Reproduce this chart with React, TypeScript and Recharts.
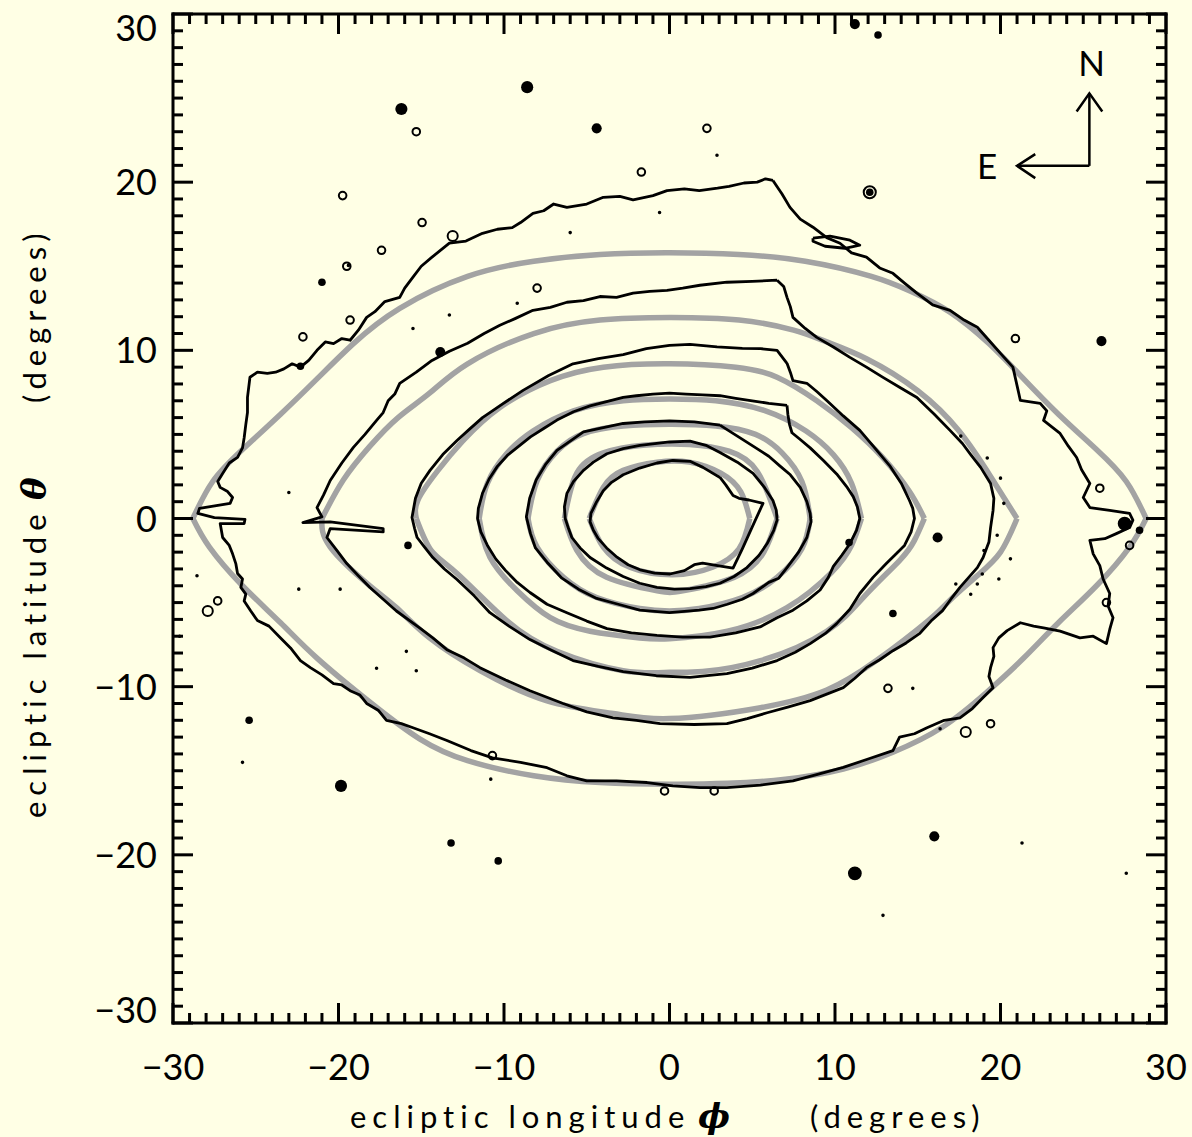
import { ComposedChart, Line, Scatter, XAxis, YAxis, ZAxis, ReferenceDot, Label } from 'recharts';

const BG = '#FFFFE5';
const GRAY = '#A3A3A3';
const FONT = 'Lato, "DejaVu Sans", sans-serif';

type P = [number, number];

// model contours (grey), outermost first; each starts at its left tip
const gray1: P[] = [[-28.8,0],[-27.6,2.2],[-25.8,4.1],[-23.5,6.2],[-21.3,8.3],[-19.1,10.4],[-16.3,12.5],[-12.2,14.4],[-8.2,15.3],[-4.2,15.7],[0,15.8],[4.2,15.7],[8.2,15.3],[12.2,14.4],[14.6,13.5],[16.9,12.3],[19.3,10.4],[21.4,8.3],[23.5,6.2],[25.8,4.1],[27.6,2.2],[28.8,0],[27.8,-1.7],[25.8,-4.0],[23.5,-6.2],[21.4,-8.3],[19.2,-10.3],[16.5,-12.4],[13.5,-13.9],[10.5,-14.9],[7.0,-15.5],[3.5,-15.75],[0,-15.8],[-4.2,-15.7],[-8.2,-15.3],[-12.2,-14.4],[-15.1,-13.1],[-18.0,-11.0],[-21.3,-8.3],[-23.5,-6.2],[-25.8,-4.0],[-27.8,-1.7],[-28.8,0]];
const gray2: P[] = [[-21.0,0],[-19.7,2.3],[-18.1,4.3],[-16.4,6.0],[-14.5,7.45],[-12.2,9.2],[-8.2,11.0],[-4.2,11.8],[0,11.95],[4.2,11.8],[7.5,11.2],[9.5,10.5],[11.9,9.5],[15.0,7.6],[17.5,5.2],[19.4,2.5],[21.0,0],[20.0,-2.0],[18.6,-3.4],[16.9,-4.9],[15.6,-6.1],[12.5,-8.45],[9.5,-10.2],[5.5,-11.25],[0,-11.9],[-3.4,-11.6],[-7.4,-10.85],[-11.45,-9.05],[-14.5,-7.1],[-16.5,-5.3],[-18.1,-4.0],[-20.5,-1.7],[-21.0,0]];
const gray3: P[] = [[-15.3,0],[-15.2,1.1],[-14.0,2.85],[-12.5,4.6],[-10.25,6.6],[-7.2,8.2],[-4.0,9.0],[0,9.2],[4.0,9.0],[6.5,8.4],[8.9,7.0],[11.0,5.4],[12.9,3.6],[14.5,1.6],[15.4,0],[14.8,-1.3],[13.9,-2.5],[11.9,-4.5],[9.5,-6.7],[5.5,-8.45],[2.0,-9.1],[0,-9.15],[-2.8,-9.05],[-6.8,-7.9],[-9.8,-6.1],[-12.8,-3.3],[-14.4,-1.9],[-15.3,0]];
const gray4: P[] = [[-11.5,0],[-11.0,2.1],[-9.8,3.9],[-8.25,5.2],[-5.8,6.4],[-2.8,7.0],[0,7.1],[2.8,7.0],[5.8,6.4],[8.25,5.2],[9.9,3.8],[11.0,2.1],[11.6,0],[11.0,-1.6],[9.8,-3.2],[7.1,-5.3],[3.5,-6.7],[0,-7.15],[-1.8,-7.1],[-4.8,-6.7],[-7.2,-5.9],[-9.2,-4.3],[-10.85,-2.3],[-11.5,0]];
const gray5: P[] = [[-8.55,0],[-8.0,2.25],[-6.8,4.0],[-5.2,5.05],[-2.8,5.5],[0,5.6],[2.8,5.5],[5.2,5.0],[6.8,3.9],[8.0,2.2],[8.5,0],[8.0,-1.8],[6.5,-3.5],[4.4,-4.7],[1.8,-5.35],[0,-5.5],[-1.8,-5.35],[-4.4,-4.7],[-6.4,-3.5],[-8.0,-1.7],[-8.55,0]];
const gray6: P[] = [[-6.35,0],[-5.6,2.7],[-4.0,3.9],[-1.6,4.35],[1.2,4.4],[3.6,4.0],[5.3,2.8],[6.5,0],[5.7,-2.0],[3.9,-3.5],[0.8,-4.3],[-0.75,-4.3],[-3.8,-3.5],[-5.6,-1.9],[-6.35,0]];
const gray7: P[] = [[-4.85,0],[-4.0,1.85],[-2.8,2.86],[-0.75,3.35],[1.2,3.35],[3.1,2.7],[4.3,1.6],[4.85,0],[4.2,-1.8],[2.6,-2.9],[0.2,-3.35],[-2.4,-2.9],[-4.0,-1.7],[-4.85,0]];

// measured contours (black)
const black1: P[] = [[6.25,20.1],[5.8,20.2],[5.3,20.0],[4.5,19.95],[3.6,19.75],[2.9,19.64],[1.8,19.5],[0.9,19.6],[-0.15,19.5],[-1.0,19.2],[-2.2,18.95],[-3.0,19.15],[-4.0,19.1],[-5.0,18.7],[-6.2,18.5],[-7.0,18.7],[-7.6,18.3],[-8.25,18.15],[-9.0,17.6],[-9.5,17.3],[-10.4,17.2],[-11.3,16.96],[-12.3,16.5],[-13.3,16.37],[-13.9,15.9],[-14.35,15.54],[-15.0,15.0],[-15.5,14.35],[-16.0,13.7],[-16.3,13.15],[-17.2,12.9],[-17.8,12.3],[-18.3,11.96],[-18.8,11.2],[-19.3,10.6],[-19.8,10.7],[-20.3,10.4],[-20.8,10.5],[-21.3,10.0],[-21.8,9.4],[-22.3,9.0],[-22.8,9.2],[-23.3,8.9],[-23.8,8.7],[-24.3,8.63],[-24.9,8.7],[-25.35,8.4],[-25.5,7.2],[-25.5,6.3],[-25.6,5.6],[-25.7,4.8],[-25.8,4.2],[-26.1,3.63],[-26.6,3.3],[-27.0,2.68],[-27.3,2.2],[-27.15,1.85],[-26.7,1.6],[-26.4,1.25],[-26.55,0.9],[-28.4,0.6],[-28.5,0.3],[-27.5,0.05],[-25.65,-0.05],[-25.7,-0.3],[-27.15,-0.3],[-27.0,-1.13],[-26.6,-1.6],[-26.4,-2.1],[-26.2,-2.7],[-26.1,-3.27],[-25.8,-3.6],[-25.9,-4.1],[-25.6,-4.5],[-25.7,-4.9],[-25.3,-5.5],[-24.9,-6.07],[-24.2,-6.4],[-23.5,-7.1],[-22.9,-7.7],[-22.3,-8.45],[-21.7,-8.87],[-21.0,-9.3],[-20.3,-9.82],[-19.8,-9.9],[-19.3,-10.24],[-18.7,-10.5],[-18.3,-11.0],[-17.6,-11.4],[-17.1,-12.0],[-16.2,-12.2],[-15.5,-12.44],[-14.5,-12.8],[-13.45,-13.2],[-12.0,-13.8],[-10.7,-14.23],[-9.0,-14.5],[-7.4,-14.82],[-6.2,-15.3],[-5.0,-15.6],[-3.2,-15.6],[-1.36,-15.7],[0.2,-15.9],[1.84,-16.0],[3.47,-16.0],[5.5,-15.85],[7.46,-15.6],[9.0,-15.2],[10.5,-14.8],[12.0,-14.3],[13.5,-13.8],[13.9,-13.0],[14.8,-12.8],[15.56,-12.44],[16.6,-12.0],[17.55,-11.85],[18.3,-11.3],[18.95,-10.65],[19.55,-10.06],[19.3,-9.4],[19.4,-8.87],[19.6,-8.2],[19.55,-7.68],[19.9,-7.1],[20.4,-6.67],[21.2,-6.2],[22.0,-6.4],[22.6,-6.5],[23.6,-6.7],[24.8,-7.1],[25.6,-7.0],[26.4,-7.44],[26.6,-6.6],[26.8,-5.9],[26.5,-5.2],[26.6,-4.46],[26.2,-3.6],[26.0,-2.8],[25.6,-2.1],[25.4,-1.3],[26.3,-1.2],[27.0,-0.9],[27.8,-0.54],[28.0,-0.1],[27.8,0.3],[27.2,0.4],[26.6,0.48],[25.4,0.65],[25.0,1.25],[25.4,2.08],[24.9,2.9],[24.6,3.63],[24.1,4.3],[23.6,5.06],[22.6,5.83],[22.8,6.4],[22.4,6.85],[21.2,7.02],[21.0,7.9],[20.75,9.0],[20.0,9.82],[19.3,10.6],[18.6,11.37],[17.8,11.8],[16.95,12.38],[15.9,12.7],[14.95,13.4],[14.2,14.0],[13.5,14.58],[12.7,14.9],[11.9,15.54],[11.0,15.8],[10.3,16.37],[9.5,16.7],[8.67,17.32],[7.9,17.8],[7.28,18.5],[6.8,19.3],[6.25,20.1]];
const black2: P[] = [[6.5,14.17],[5.0,14.1],[3.47,14.05],[1.84,13.87],[0.8,13.7],[-0.15,13.57],[-1.2,13.5],[-2.2,13.4],[-3.2,13.15],[-4.2,13.2],[-5.2,12.95],[-6.2,12.86],[-7.2,12.55],[-8.25,12.38],[-9.3,11.9],[-10.25,11.49],[-11.2,11.0],[-12.2,10.42],[-13.3,9.95],[-14.35,9.4],[-15.3,8.7],[-16.3,8.04],[-16.6,7.4],[-17.0,7.0],[-17.3,6.3],[-17.7,5.83],[-18.4,5.0],[-19.1,4.23],[-19.8,3.3],[-20.5,2.26],[-20.9,1.4],[-21.3,0.65],[-21.0,0.1],[-22.15,-0.24],[-20.5,-0.2],[-17.3,-0.6],[-17.3,-0.8],[-20.5,-0.6],[-20.7,-1.13],[-20.1,-1.9],[-19.5,-2.68],[-18.8,-3.4],[-18.1,-4.1],[-17.3,-4.8],[-16.5,-5.5],[-15.1,-6.5],[-14.3,-7.1],[-13.45,-7.8],[-12.4,-8.3],[-11.45,-8.87],[-9.9,-9.6],[-8.43,-10.24],[-6.43,-11.0],[-5.0,-11.5],[-3.41,-11.85],[-2.0,-12.0],[-0.57,-12.2],[1.5,-12.25],[3.47,-12.2],[4.7,-11.9],[5.9,-11.55],[7.2,-11.2],[8.5,-10.83],[10.5,-10.06],[11.2,-9.5],[11.9,-8.87],[12.7,-8.4],[13.5,-7.86],[14.3,-7.4],[15.1,-6.85],[15.8,-6.1],[16.5,-5.48],[17.0,-4.8],[17.55,-4.1],[18.6,-2.92],[18.95,-2.32],[19.3,-1.4],[19.4,-0.54],[19.55,0.48],[19.6,1.2],[19.4,2.08],[18.8,3.04],[18.2,3.8],[17.7,4.46],[16.95,5.24],[16.0,6.2],[14.95,7.2],[13.9,7.8],[12.9,8.39],[11.9,9.0],[10.9,9.58],[9.9,10.2],[8.9,10.77],[8.2,11.3],[7.46,11.96],[7.3,12.6],[7.1,13.15],[6.9,13.8],[6.5,14.17]];
const black3: P[] = [[7.1,9.23],[6.5,10.0],[5.5,10.1],[4.4,10.12],[2.87,10.2],[1.24,10.35],[0,10.3],[-1.4,10.1],[-2.8,9.75],[-4.3,9.5],[-5.83,9.2],[-7.3,8.5],[-8.85,7.62],[-10.1,6.8],[-11.3,6.0],[-12.1,5.3],[-12.84,4.64],[-13.7,3.8],[-14.47,2.86],[-15.0,2.1],[-15.35,1.2],[-15.56,0.06],[-15.4,-0.6],[-15.25,-1.13],[-14.8,-1.7],[-14.3,-2.32],[-13.6,-3.0],[-12.84,-3.63],[-11.8,-4.6],[-10.85,-5.6],[-9.7,-6.4],[-8.43,-7.2],[-7.1,-7.85],[-5.83,-8.45],[-4.3,-8.8],[-2.8,-9.1],[-0.8,-9.35],[1.24,-9.45],[3.47,-9.23],[5.0,-8.9],[6.5,-8.45],[7.6,-7.95],[8.5,-7.44],[9.4,-6.85],[10.1,-6.25],[10.9,-5.4],[11.5,-4.46],[12.3,-3.5],[13.1,-2.68],[13.7,-2.1],[14.2,-1.6],[14.6,-0.8],[14.8,0],[14.7,0.6],[14.5,1.07],[14.0,2.1],[13.3,3.15],[12.4,4.2],[11.5,5.24],[10.5,6.1],[9.5,7.02],[8.9,7.55],[8.3,8.04],[7.46,8.2],[7.3,8.7],[7.1,9.23]];
const black4: P[] = [[7.1,6.73],[6.0,6.85],[5.0,7.0],[4.0,7.15],[3.05,7.3],[2.0,7.35],[1.0,7.4],[0,7.45],[-1.0,7.4],[-2.0,7.3],[-2.8,7.2],[-3.8,6.95],[-4.8,6.7],[-5.8,6.35],[-6.8,5.85],[-7.6,5.35],[-8.4,4.85],[-9.1,4.3],[-9.8,3.75],[-10.4,3.1],[-10.9,2.35],[-11.3,1.5],[-11.55,0.6],[-11.6,0.0],[-11.4,-0.8],[-11.0,-1.6],[-10.5,-2.4],[-9.9,-3.1],[-9.2,-3.8],[-8.43,-4.4],[-7.4,-5.1],[-6.2,-5.6],[-5.0,-6.1],[-3.78,-6.55],[-2.3,-6.8],[-0.76,-6.95],[0.8,-7.05],[2.45,-7.05],[4.0,-6.8],[5.47,-6.45],[6.5,-5.9],[7.46,-5.45],[8.3,-4.9],[9.1,-4.25],[9.6,-3.5],[9.9,-2.85],[10.4,-2.2],[10.9,-1.5],[11.3,-0.7],[11.5,0],[11.35,0.7],[11.1,1.3],[10.7,1.9],[10.1,2.65],[9.3,3.45],[8.5,4.2],[7.9,4.7],[7.4,5.1],[7.25,5.6],[7.15,6.2],[7.1,6.73]];
const black5: P[] = [[3.05,5.55],[1.5,5.75],[0,5.8],[-1.5,5.75],[-2.8,5.65],[-4.0,5.4],[-5.2,5.15],[-6.0,4.6],[-6.8,4.05],[-7.5,3.2],[-8.05,2.3],[-8.45,1.2],[-8.65,0.1],[-8.4,-0.9],[-8.1,-1.75],[-7.4,-2.6],[-6.5,-3.55],[-5.5,-4.2],[-4.4,-4.75],[-3.1,-5.1],[-1.8,-5.45],[0,-5.6],[1.8,-5.45],[2.63,-5.35],[3.5,-5.1],[4.4,-4.8],[5.05,-4.46],[6.0,-3.8],[6.6,-3.55],[7.1,-2.92],[7.8,-2.0],[8.3,-1.13],[8.55,-0.2],[8.5,0.3],[8.3,1.0],[7.9,1.85],[7.3,2.6],[6.7,3.1],[6.0,3.7],[5.05,4.3],[4.1,4.9],[3.05,5.55]];
const black6: P[] = [[3.05,3.93],[2.2,4.35],[1.24,4.6],[0,4.55],[-1.78,4.35],[-2.8,4.15],[-3.78,3.85],[-4.6,3.35],[-5.2,2.86],[-5.8,2.2],[-6.2,1.49],[-6.35,0.7],[-6.3,0.0],[-6.1,-0.6],[-5.9,-1.13],[-5.4,-1.75],[-4.8,-2.32],[-3.8,-2.95],[-2.8,-3.45],[-1.8,-3.85],[-0.76,-4.1],[0.3,-4.2],[1.24,-4.17],[2.2,-4.05],[3.05,-3.85],[3.9,-3.45],[4.68,-2.92],[5.4,-2.2],[5.9,-1.49],[6.3,-0.7],[6.5,-0.1],[6.45,0.5],[6.25,1.07],[5.7,1.9],[5.05,2.68],[4.1,3.35],[3.05,3.93]];
const black7: P[] = [[3.05,2.44],[2.02,3.04],[1.24,3.4],[0.2,3.45],[-0.76,3.3],[-1.8,3.0],[-2.8,2.6],[-3.5,2.15],[-4.0,1.65],[-4.4,1.0],[-4.75,0.3],[-4.8,-0.2],[-4.6,-0.7],[-4.3,-1.2],[-3.8,-1.75],[-3.17,-2.3],[-2.5,-2.75],[-1.78,-3.05],[-0.9,-3.25],[0.03,-3.3],[0.9,-3.1],[1.5,-2.75],[2.0,-2.65],[2.9,-2.8],[3.84,-2.95],[4.4,-1.8],[5.0,-0.5],[5.65,0.9],[4.8,1.1],[4.2,1.2],[3.84,1.37],[3.4,2.0],[3.05,2.44]];
const blackLoop: P[] = [[8.67,16.67],[9.7,16.79],[10.9,16.55],[11.5,16.25],[10.6,16.07],[9.4,16.19],[8.67,16.49],[8.67,16.67]];

// stars: phi, theta, brightness
const starsFilled: [number, number, number][] = [[-16.2,24.35,4],[-8.6,25.65,4],[-4.4,23.2,3],[11.2,29.4,3],[12.6,28.75,2],[-13.85,9.9,3],[26.1,10.55,3],[-22.3,9.05,2],[-21.0,14.05,2],[-19.4,15.05,1],[2.87,21.6,1],[-0.6,18.2,1],[-6.0,17.0,1],[-23.0,1.55,1],[-15.8,-1.6,2],[10.85,-1.43,2],[16.2,-1.13,3],[27.5,-0.3,5],[28.4,-0.7,2],[-29.6,-7.0,1],[-25.4,-12.0,2],[-25.8,-14.5,1],[-19.85,-15.9,4],[-13.2,-19.3,2],[-10.35,-20.36,2],[11.2,-21.1,5],[16.0,-18.9,3],[12.9,-23.6,1],[21.3,-19.3,1],[27.6,-21.1,1],[-17.7,-8.9,1],[-15.3,-9.05,1],[-15.9,-7.9,1],[-22.4,-4.2,1],[-19.9,-4.2,1],[-10.8,-15.5,1],[16.35,-12.5,1],[13.5,-5.65,2],[14.7,-10.1,1],[-28.55,-3.4,1],[12.1,19.4,2],[19.8,-1.0,1],[20.2,0.9,1],[18.9,-3.3,1],[19.2,3.6,1],[17.3,-3.9,1],[20.6,-2.4,1],[18.2,-4.5,1],[19.9,-3.6,1],[20.0,2.4,1],[19.0,-1.9,1],[18.6,-3.9,1],[17.6,4.9,1],[-13.3,12.1,1],[-9.2,12.8,1],[-15.5,11.3,1]];
const starsRing: [number, number, number][] = [[-15.3,23.0,2],[2.26,23.2,2],[-1.7,20.6,2],[12.1,19.4,4],[-19.75,19.2,2],[-19.5,15.0,2],[-17.4,15.95,2],[-14.95,17.6,2],[-13.1,16.8,3],[-8.0,13.7,2],[-22.15,10.8,2],[-19.3,11.8,2],[20.9,10.7,2],[-27.9,-5.5,3],[-27.3,-4.9,2],[-10.7,-14.1,2],[-0.3,-16.2,2],[2.7,-16.2,2],[13.2,-10.1,2],[17.9,-12.7,3],[19.4,-12.2,2],[26.0,1.8,2],[27.8,-1.6,2],[26.4,-5.0,2]];

// compass
const arrowN: P[] = [[25.37,20.97],[25.37,25.28]];
const headN: P[] = [[24.6,24.2],[25.37,25.28],[26.15,24.2]];
const arrowE: P[] = [[25.37,20.97],[21.0,20.97]];
const headE: P[] = [[22.1,21.67],[21.0,20.97],[22.1,20.24]];

const ticks = Array.from({ length: 61 }, (_, i) => i - 30);
const pts = (a: P[]) => a.map(([x, y]) => ({ x, y }));
const stars = (a: [number, number, number][]) => a.map(([x, y, m]) => ({ x, y, m }));
const fmt = (v: number) => (v < 0 ? '\u2212' + Math.abs(v) : String(v));
const tickLen = (v: number) => (v % 10 === 0 ? 20 : 10);

// split a closed contour at its right tip so both halves can be smoothed with sharp tips
function halves(a: P[]) {
  let k = 0;
  a.forEach((p, i) => { if (p[0] > a[k][0]) k = i; });
  return [a.slice(0, k + 1), a.slice(k)];
}

function BottomTick({ x, y, payload }: any) {
  const v = payload.value;
  return (
    <g>
      <line x1={x} y1={y} x2={x} y2={y - tickLen(v)} stroke="#000" strokeWidth={3} />
      {v % 10 === 0 && (
        <text x={x} y={y + 57} textAnchor="middle" fontSize={36} fontFamily={FONT} fill="#000">{fmt(v)}</text>
      )}
    </g>
  );
}
function TopTick({ x, y, payload }: any) {
  return <line x1={x} y1={y} x2={x} y2={y + tickLen(payload.value)} stroke="#000" strokeWidth={3} />;
}
function LeftTick({ x, y, payload }: any) {
  const v = payload.value;
  const dy = v === 30 ? 27 : v === -30 ? 0 : 13;
  return (
    <g>
      <line x1={x} y1={y} x2={x + tickLen(v)} y2={y} stroke="#000" strokeWidth={3} />
      {v % 10 === 0 && (
        <text x={x - 16} y={y + dy} textAnchor="end" fontSize={36} fontFamily={FONT} fill="#000">{fmt(v)}</text>
      )}
    </g>
  );
}
function RightTick({ x, y, payload }: any) {
  return <line x1={x} y1={y} x2={x - tickLen(payload.value)} y2={y} stroke="#000" strokeWidth={3} />;
}

const titleStyle = { fontSize: 31, fontFamily: FONT, letterSpacing: 6, fill: '#000' };
const greek = { fontSize: 34, fontFamily: '"DejaVu Serif", serif', fontWeight: 700, fontStyle: 'italic', fill: '#000' };

function XTitle({ viewBox }: any) {
  const x0 = viewBox.x;
  const y0 = viewBox.y + 105;
  return (
    <g>
      <text x={x0 + 177} y={y0} {...titleStyle}>ecliptic longitude</text>
      <text x={x0 + 525} y={y0} {...greek}>{'\u03D5'}</text>
      <text x={x0 + 637} y={y0} {...titleStyle}>(degrees)</text>
    </g>
  );
}
function YTitle({ viewBox }: any) {
  const bx = viewBox.x + 46;
  const by = viewBox.y + 804;
  return (
    <g transform={`translate(${bx},${by}) rotate(-90)`}>
      <text x={0} y={0} {...titleStyle}>ecliptic latitude</text>
      <text x={318} y={0} {...greek}>{'\u03B8'}</text>
      <text x={415} y={0} {...titleStyle}>(degrees)</text>
    </g>
  );
}

const axisLine = { stroke: '#000', strokeWidth: 3, strokeLinecap: 'square' as const };

export default function App() {
  const grays = [gray1, gray2, gray3, gray4, gray5, gray6, gray7].flatMap(halves);
  const blacks = [black1, black2, black3, black4, black5, black6, black7, blackLoop];
  const arrows = [arrowN, headN, arrowE, headE];
  return (
    <div style={{ position: 'fixed', left: 0, top: 0, width: 1192, height: 1137, background: BG }}>
      <ComposedChart width={1192} height={1137} margin={{ top: 0, right: 0, bottom: 0, left: 0 }}>
        <XAxis dataKey="x" type="number" domain={[-30, 30]} allowDataOverflow ticks={ticks} interval={0}
          height={114} tickSize={0} tickMargin={0} tickLine={false} axisLine={axisLine} tick={<BottomTick />}>
          <Label content={<XTitle />} />
        </XAxis>
        <XAxis xAxisId="top" orientation="top" dataKey="x" type="number" domain={[-30, 30]} allowDataOverflow ticks={ticks} interval={0}
          height={14} tickSize={0} tickMargin={0} tickLine={false} axisLine={axisLine} tick={<TopTick />} />
        <YAxis dataKey="y" type="number" domain={[-30, 30]} allowDataOverflow ticks={ticks} interval={0}
          width={173} tickSize={0} tickMargin={0} tickLine={false} axisLine={axisLine} tick={<LeftTick />}>
          <Label content={<YTitle />} />
        </YAxis>
        <YAxis yAxisId="right" orientation="right" dataKey="y" type="number" domain={[-30, 30]} allowDataOverflow ticks={ticks} interval={0}
          width={26} tickSize={0} tickMargin={0} tickLine={false} axisLine={axisLine} tick={<RightTick />} />
        <ZAxis dataKey="m" type="number" domain={[1, 5]} range={[10, 150]} />
        {grays.map((g, i) => (
          <Line key={'g' + i} data={pts(g)} dataKey="y" type="natural" stroke={GRAY} strokeWidth={5.5}
            strokeLinejoin="round" dot={false} activeDot={false} isAnimationActive={false} />
        ))}
        {blacks.map((b, i) => (
          <Line key={'b' + i} data={pts(b)} dataKey="y" type="linear" stroke="#000" strokeWidth={2.8}
            strokeLinejoin="round" dot={false} activeDot={false} isAnimationActive={false} />
        ))}
        {arrows.map((a, i) => (
          <Line key={'a' + i} data={pts(a)} dataKey="y" type="linear" stroke="#000" strokeWidth={2.5}
            dot={false} activeDot={false} isAnimationActive={false} />
        ))}
        <Scatter data={stars(starsFilled)} fill="#000" isAnimationActive={false} />
        <Scatter data={stars(starsRing)} fill="none" stroke="#000" strokeWidth={2} isAnimationActive={false} />
        <ReferenceDot x={25.5} y={27.17} r={0} shape={(p: any) => (
          <text x={p.cx} y={p.cy} textAnchor="middle" dominantBaseline="central" fontSize={35} fontFamily={FONT}>N</text>
        )} />
        <ReferenceDot x={19.19} y={21.0} r={0} shape={(p: any) => (
          <text x={p.cx} y={p.cy} textAnchor="middle" dominantBaseline="central" fontSize={35} fontFamily={FONT}>E</text>
        )} />
      </ComposedChart>
    </div>
  );
}
